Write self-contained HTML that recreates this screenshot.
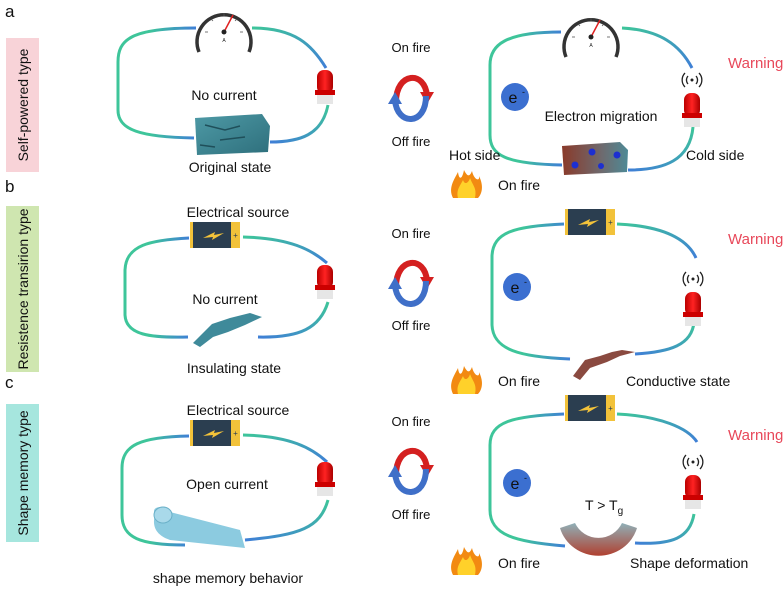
<!DOCTYPE html>
<html><head><meta charset="utf-8"><style>
html,body{margin:0;padding:0;background:#fff;}
svg{display:block;font-family:"Liberation Sans",Arial,sans-serif;}
</style></head><body>
<svg width="784" height="593" viewBox="0 0 784 593" xmlns="http://www.w3.org/2000/svg">
<defs>
<linearGradient id="gL" x1="1" y1="0" x2="0" y2="0"><stop offset="0" stop-color="#3f7fd6"/><stop offset="0.6" stop-color="#3ec59a"/></linearGradient>
<linearGradient id="gR" x1="0" y1="0" x2="1" y2="1"><stop offset="0" stop-color="#3ec59a"/><stop offset="1" stop-color="#3f7fd6"/></linearGradient>
<linearGradient id="gB" x1="1" y1="0" x2="0" y2="1"><stop offset="0" stop-color="#3ec59a"/><stop offset="1" stop-color="#3f7fd6"/></linearGradient>
<linearGradient id="blk" x1="0" y1="0" x2="1" y2="1"><stop offset="0" stop-color="#4e9aa6"/><stop offset="1" stop-color="#2e6f7c"/></linearGradient>
<linearGradient id="hot" x1="0" y1="0" x2="1" y2="0"><stop offset="0" stop-color="#8a3a2a"/><stop offset="0.6" stop-color="#6e6a6e"/><stop offset="1" stop-color="#4e8a96"/></linearGradient>
<linearGradient id="arc" x1="0" y1="0" x2="0" y2="1"><stop offset="0" stop-color="#8fb0b8"/><stop offset="1" stop-color="#b04030"/></linearGradient>
<linearGradient id="sir" x1="0" y1="0" x2="1" y2="0"><stop offset="0" stop-color="#b00"/><stop offset="0.5" stop-color="#f22"/><stop offset="1" stop-color="#a00"/></linearGradient>
<g id="gauge">
 <path d="M-25,20 A27,27 0 1 1 25,20" fill="#fff" stroke="#333" stroke-width="3.5"/>
 <g stroke="#555" stroke-width="0.8"><line x1="-19" y1="0" x2="-16" y2="0"/><line x1="19" y1="0" x2="16" y2="0"/><line x1="0" y1="-19" x2="0" y2="-16"/><line x1="-13" y1="-13" x2="-11" y2="-11"/><line x1="13" y1="-13" x2="11" y2="-11"/></g>
 <line x1="0" y1="0" x2="9" y2="-17" stroke="#e02020" stroke-width="1.5"/>
 <circle r="2.5" fill="#222"/>
 <text x="0" y="10" font-size="5" text-anchor="middle" fill="#222">A</text>
</g>
<g id="siren">
 <rect x="-8" y="0" width="16" height="24" rx="7" fill="url(#sir)"/>
 <rect x="-10" y="20" width="20" height="5" fill="#c00"/>
 <rect x="-8" y="25" width="16" height="9" fill="#e6e6e6"/>
</g>
<g id="batt">
 <rect x="0" y="0" width="50" height="26" fill="#2b3e50"/>
 <rect x="0" y="0" width="3" height="26" fill="#f2c23a"/>
 <rect x="41" y="0" width="9" height="26" fill="#f2c23a"/>
 <text x="45.5" y="16" font-size="8" text-anchor="middle" fill="#2b3e50">+</text>
 <path d="M13,16 L25,10 L24,13 L34,11 L22,18 L23,15 Z" fill="#f2c23a"/>
</g>
<g id="signal" fill="none" stroke="#222" stroke-width="1.3">
 <circle r="1.5" fill="#222" stroke="none"/>
 <path d="M-4,-4 A6,6 0 0 0 -4,4 M4,-4 A6,6 0 0 1 4,4 M-7,-7 A10,10 0 0 0 -7,7 M7,-7 A10,10 0 0 1 7,7"/>
</g>
<g id="elec"><circle r="14" fill="#3b6fd0"/><text x="-2" y="6" font-size="16" text-anchor="middle" fill="#111">e</text><text x="7" y="-2" font-size="9" fill="#111">-</text></g>
<g id="flame">
 <path d="M-13,12 C-18,2 -12,-6 -8,-14 C-7,-6 -4,-6 -2,-16 C2,-8 4,-10 6,-15 C8,-6 14,-4 13,-10 C18,0 16,8 12,12 Z" fill="#f28a12"/>
 <path d="M-8,12 C-10,4 -6,0 -3,-6 C-1,0 3,-4 4,-8 C7,0 11,2 9,12 Z" fill="#ffd12a"/>
</g>
<g id="cyc">
 <path d="M-15,4 C-15,-26 14,-28 16,-2" fill="none" stroke="#d42020" stroke-width="6"/>
 <path d="M9,-6 L23,-6 L16,6 Z" fill="#d42020"/>
 <path d="M15,-2 C15,28 -14,28 -16,2" fill="none" stroke="#3f6fc8" stroke-width="6"/>
 <path d="M-9,6 L-23,6 L-16,-6 Z" fill="#3f6fc8"/>
</g>
</defs>

<g font-size="14" fill="#111">
<text x="5" y="17" font-size="17">a</text>
<rect x="6" y="38" width="33" height="134" fill="#f8d3d8"/>
<text transform="translate(28,105) rotate(-90)" text-anchor="middle" font-size="14">Self-powered type</text>
<text x="5" y="192" font-size="17">b</text>
<rect x="6" y="206" width="33" height="166" fill="#cfe6b0"/>
<text transform="translate(28,289) rotate(-90)" text-anchor="middle" font-size="14">Resistence transirion type</text>
<text x="5" y="388" font-size="17">c</text>
<rect x="6" y="404" width="33" height="138" fill="#a6e6de"/>
<text transform="translate(28,473) rotate(-90)" text-anchor="middle" font-size="14">Shape memory type</text>

<!-- Panel a left -->
<g fill="none" stroke-width="3">
 <path d="M196,28 C130,28 118,40 118,62 V110 C118,130 140,137 194,138" stroke="url(#gL)"/>
 <path d="M252,28 C295,28 312,45 326,68" stroke="url(#gR)"/>
 <path d="M328,105 C322,135 300,142 270,142" stroke="url(#gB)"/>
</g>
<use href="#gauge" x="224" y="32"/>
<use href="#siren" x="325" y="70"/>
<path d="M195,118 L262,114 L270,126 L268,152 L197,155 Z" fill="url(#blk)"/>
<path d="M205,125 l20,5 l15,-4 M220,140 l25,-3 M200,145 l15,2" stroke="#1f4f5a" stroke-width="1.5" fill="none"/>
<text x="224" y="100" text-anchor="middle">No current</text>
<text x="230" y="172" text-anchor="middle">Original state</text>

<text x="411" y="52" text-anchor="middle" font-size="13">On fire</text>
<use href="#cyc" x="411" y="98"/>
<text x="411" y="146" text-anchor="middle" font-size="13">Off fire</text>
<text x="411" y="238" text-anchor="middle" font-size="13">On fire</text>
<use href="#cyc" x="411" y="283"/>
<text x="411" y="330" text-anchor="middle" font-size="13">Off fire</text>
<text x="411" y="426" text-anchor="middle" font-size="13">On fire</text>
<use href="#cyc" x="411" y="471"/>
<text x="411" y="519" text-anchor="middle" font-size="13">Off fire</text>

<!-- Panel a right -->
<g fill="none" stroke-width="3">
 <path d="M561,32 C505,32 490,45 490,65 V135 C490,155 505,164 562,165" stroke="url(#gL)"/>
 <path d="M622,28 C660,30 680,45 692,68" stroke="url(#gR)"/>
 <path d="M693,127 C690,160 665,170 628,170" stroke="url(#gB)"/>
</g>
<use href="#gauge" x="591" y="37"/>
<use href="#signal" x="692" y="80"/>
<use href="#siren" x="692" y="93"/>
<text x="728" y="68" fill="#e8485a" font-size="15">Warning</text>
<use href="#elec" x="515" y="97"/>
<text x="601" y="121" text-anchor="middle">Electron migration</text>
<path d="M562,146 L620,142 L628,150 L627,172 L564,175 Z" fill="url(#hot)"/>
<g fill="#1d2fd0"><circle cx="592" cy="152" r="3.5"/><circle cx="617" cy="155" r="3.5"/><circle cx="575" cy="165" r="3.5"/><circle cx="601" cy="166" r="3"/></g>
<text x="449" y="160">Hot side</text>
<text x="686" y="160">Cold side</text>
<use href="#flame" x="466" y="186"/>
<text x="498" y="190">On fire</text>

<!-- Panel b left -->
<text x="238" y="217" text-anchor="middle">Electrical source</text>
<use href="#batt" x="190" y="222"/>
<g fill="none" stroke-width="3">
 <path d="M189,238 C150,240 126,245 125,270 V315 C126,335 150,338 188,337" stroke="url(#gL)"/>
 <path d="M243,237 C290,238 312,250 327,263" stroke="url(#gR)"/>
 <path d="M328,302 C320,328 300,338 258,337" stroke="url(#gB)"/>
</g>
<use href="#siren" x="325" y="265"/>
<text x="225" y="304" text-anchor="middle">No current</text>
<path d="M193,343 L212,324 L230,318 L250,313 L262,317 L245,325 L228,332 L213,337 L200,347 Z" fill="#3f8a9a"/>
<text x="234" y="373" text-anchor="middle">Insulating state</text>

<!-- Panel b right -->
<use href="#batt" x="565" y="209"/>
<g fill="none" stroke-width="3">
 <path d="M564,224 C515,226 493,232 492,256 V325 C493,350 520,357 570,359" stroke="url(#gL)"/>
 <path d="M617,224 C665,226 688,240 696,258" stroke="url(#gR)"/>
 <path d="M694,322 C692,345 670,352 635,354" stroke="url(#gB)"/>
</g>
<text x="728" y="244" fill="#e8485a" font-size="15">Warning</text>
<use href="#signal" x="693" y="279"/>
<use href="#siren" x="693" y="292"/>
<use href="#elec" x="517" y="287"/>
<path d="M573,376 L585,360 L600,356 L612,352 L622,350 L635,352 L620,356 L607,362 L590,368 L580,380 Z" fill="#8a4a40"/>
<use href="#flame" x="466" y="382"/>
<text x="498" y="386">On fire</text>
<text x="626" y="386">Conductive state</text>

<!-- Panel c left -->
<text x="238" y="415" text-anchor="middle">Electrical source</text>
<use href="#batt" x="190" y="420"/>
<g fill="none" stroke-width="3">
 <path d="M189,436 C140,437 122,445 122,468 V515 C122,538 140,545 185,545" stroke="url(#gL)"/>
 <path d="M243,435 C290,436 312,448 327,462" stroke="url(#gR)"/>
 <path d="M328,500 C320,528 300,535 245,540" stroke="url(#gB)"/>
</g>
<use href="#siren" x="325" y="462"/>
<text x="227" y="489" text-anchor="middle">Open current</text>
<path d="M155,515 C150,505 165,505 170,512 L240,530 L245,548 L170,540 C155,535 152,525 155,515 Z" fill="#8ccbe0"/>
<ellipse cx="163" cy="515" rx="9" ry="8" fill="#a9d9ea" stroke="#6ab0c8"/>
<text x="228" y="583" text-anchor="middle">shape memory behavior</text>

<!-- Panel c right -->
<use href="#batt" x="565" y="395"/>
<g fill="none" stroke-width="3">
 <path d="M564,414 C512,416 490,422 490,445 V510 C490,535 515,542 565,546" stroke="url(#gL)"/>
 <path d="M617,414 C660,416 688,428 697,442" stroke="url(#gR)"/>
 <path d="M694,514 C690,538 672,545 635,543" stroke="url(#gB)"/>
</g>
<text x="728" y="440" fill="#e8485a" font-size="15">Warning</text>
<use href="#signal" x="693" y="462"/>
<use href="#siren" x="693" y="475"/>
<use href="#elec" x="517" y="483"/>
<text x="585" y="510" font-size="14">T &gt; T<tspan font-size="10" dy="4">g</tspan></text>
<path d="M560,528 L575,523 A26,26 0 0 0 622,523 L637,528 A40,38 0 0 1 560,528 Z" fill="url(#arc)"/>
<use href="#flame" x="466" y="563"/>
<text x="498" y="568">On fire</text>
<text x="630" y="568">Shape deformation</text>
</g>
</svg>
</body></html>
